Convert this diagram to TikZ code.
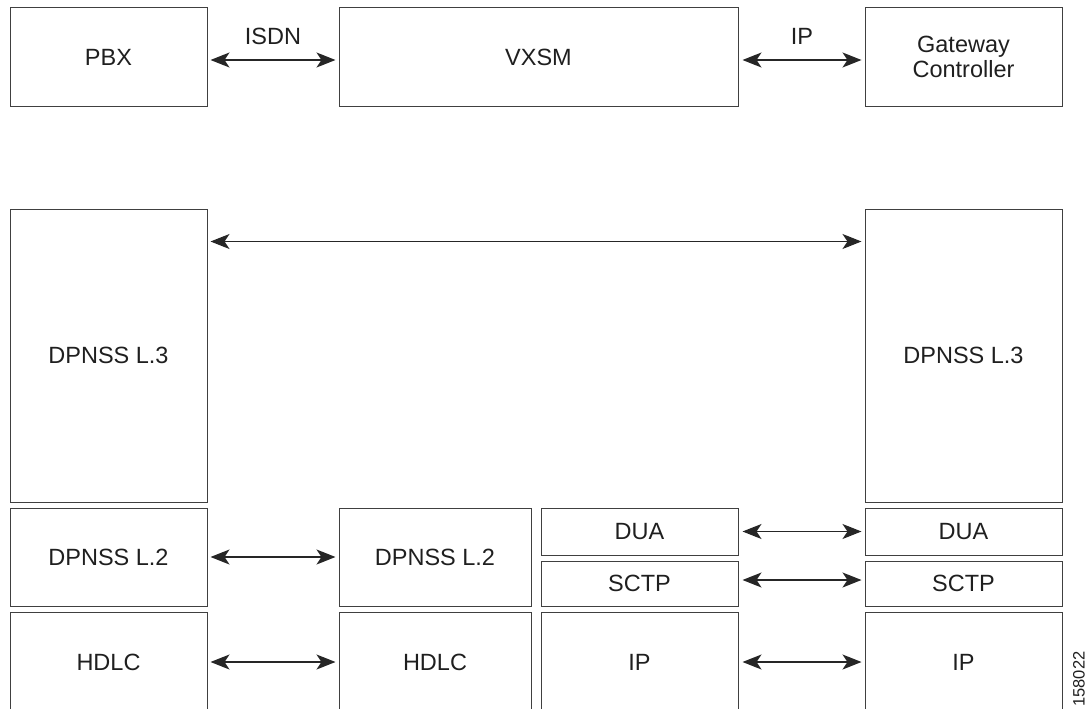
\documentclass[tikz,border=0pt]{standalone}
\usepackage{fontspec}
\setmainfont{Liberation Sans}
\usetikzlibrary{arrows.meta,calc}
\begin{document}
\begin{tikzpicture}[x=1pt,y=1pt,
  blk/.style={draw=black!75, line width=1pt, inner sep=0pt, anchor=center,
    font=\fontsize{23.5}{25.5}\selectfont, text=black!88, align=center},
  biarrow/.style={line width=1.3pt, draw=black!85,
    {Stealth[length=19pt,width=15pt,inset=5pt]}-{Stealth[length=19pt,width=15pt,inset=5pt]}},
  lbl/.style={font=\fontsize{23.5}{24.5}\selectfont, text=black!88, inner sep=0pt}
]
\useasboundingbox (0,0) rectangle (1090,-709);
\begin{scope}
\clip (0,0) rectangle (1090,-709);

% top row: PBX -- VXSM -- Gateway Controller
\node[blk, minimum width=197, minimum height=98] (pbx) at (108.5,-57) {PBX};
\node[blk, minimum width=399, minimum height=98] (vxsm) at (538.5,-57) {VXSM};
\node[blk, minimum width=197, minimum height=98] (gc) at (963.5,-57) {Gateway\\Controller};

\draw[biarrow] ([xshift=3pt,yshift=-3pt]pbx.east) -- ([xshift=-3pt,yshift=-3pt]vxsm.west)
  node[lbl, midway, yshift=24pt] (isdnl) {ISDN};
\draw[biarrow] ([xshift=4pt,yshift=-3pt]vxsm.east) -- ([xshift=-3pt,yshift=-3pt]gc.west)
  node[lbl, midway, yshift=24pt] (ipl) {IP};

% protocol stacks
\node[blk, minimum width=197, minimum height=293] (l3a) at (108.5,-355.5) {DPNSS L.3};
\node[blk, minimum width=197, minimum height=98] (l2a) at (108.5,-557) {DPNSS L.2};
\node[blk, minimum width=197, minimum height=100] (hdlca) at (108.5,-662) {HDLC};

\node[blk, minimum width=192, minimum height=98] (l2b) at (435,-557) {DPNSS L.2};
\node[blk, minimum width=192, minimum height=100] (hdlcb) at (435,-662) {HDLC};

\node[blk, minimum width=197, minimum height=47] (duac) at (639.5,-531.5) {DUA};
\node[blk, minimum width=197, minimum height=45] (sctpc) at (639.5,-583.5) {SCTP};
\node[blk, minimum width=197, minimum height=100] (ipc) at (639.5,-662) {IP};

\node[blk, minimum width=197, minimum height=293] (l3d) at (963.5,-355.5) {DPNSS L.3};
\node[blk, minimum width=197, minimum height=47] (duad) at (963.5,-531.5) {DUA};
\node[blk, minimum width=197, minimum height=45] (sctpd) at (963.5,-583.5) {SCTP};
\node[blk, minimum width=197, minimum height=100] (ipd) at (963.5,-662) {IP};

% peer links
\draw[biarrow] ($(l3a.north east)+(3,-33)$) -- ($(l3d.north west)+(-3,-33)$);
\draw[biarrow] ([xshift=3pt]l2a.east) -- ([xshift=-3pt]l2b.west);
\draw[biarrow] ([xshift=3pt]hdlca.east) -- ([xshift=-3pt]hdlcb.west);
\draw[biarrow] ([xshift=4pt]duac.east) -- ([xshift=-3pt]duad.west);
\draw[biarrow] ([xshift=4pt,yshift=3.5pt]sctpc.east) -- ([xshift=-3pt,yshift=3.5pt]sctpd.west);
\draw[biarrow] ([xshift=4pt]ipc.east) -- ([xshift=-3pt]ipd.west);

\node[rotate=90, font=\fontsize{16.5}{17}\selectfont, text=black!88, inner sep=0pt] (fig) at (1079,-679) {158022};
\end{scope}
\end{tikzpicture}
\end{document}
